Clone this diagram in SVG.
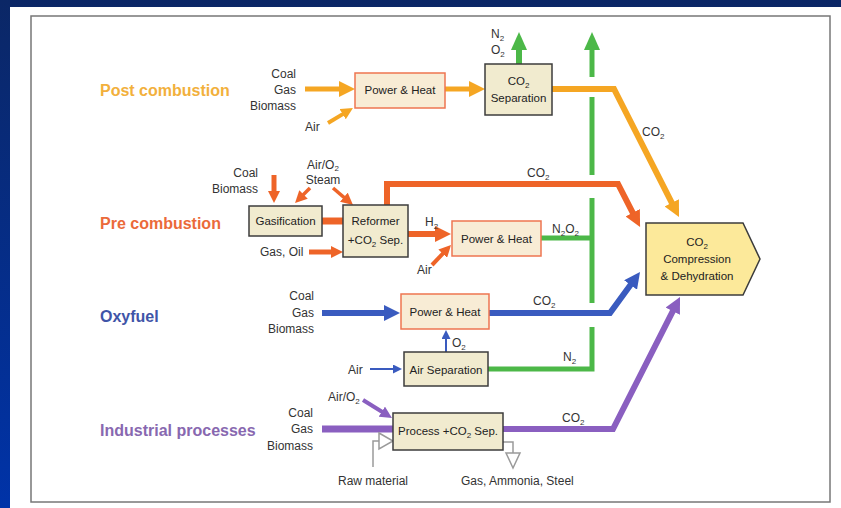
<svg xmlns="http://www.w3.org/2000/svg" width="841" height="508" viewBox="0 0 841 508">
<style>
text{font-family:"Liberation Sans",Arial,sans-serif;fill:#333}
.t{font-size:12px}
.b{font-size:11.5px;text-anchor:middle;fill:#222}
.sec{font-size:16px;font-weight:bold}
.box{fill:#f1ebcf;stroke:#3c3c3c;stroke-width:1.5}
.ph{fill:#f8ecd5;stroke:#ee7550;stroke-width:1.5}
.c{fill:none;stroke-linejoin:miter}
.or{stroke:#f5a623}
.rd{stroke:#ee6428}
.gr{stroke:#4cb848}
.bl{stroke:#3a5bbf}
.pu{stroke:#8a5fc0}
.gy{fill:none;stroke:#9a9a9a;stroke-width:1.5}
.tri{fill:#fff;stroke:#9a9a9a;stroke-width:1.5}
</style>
<defs>
<linearGradient id="bg" x1="0" y1="0" x2="0" y2="1">
<stop offset="0" stop-color="#0b2766"/>
<stop offset="1" stop-color="#0033a8"/>
</linearGradient>
<marker id="or-b" markerUnits="userSpaceOnUse" viewBox="0 0 16 16" markerWidth="16" markerHeight="16" refX="6" refY="8" orient="auto"><path d="M0,0 L16,8 L0,16 z" fill="#f5a623"/></marker>
<marker id="or-m" markerUnits="userSpaceOnUse" viewBox="0 0 12 12" markerWidth="12" markerHeight="12" refX="4" refY="6" orient="auto"><path d="M0,0 L12,6 L0,12 z" fill="#f5a623"/></marker>
<marker id="rd-b" markerUnits="userSpaceOnUse" viewBox="0 0 16 16" markerWidth="16" markerHeight="16" refX="6" refY="8" orient="auto"><path d="M0,0 L16,8 L0,16 z" fill="#ee6428"/></marker>
<marker id="rd-m" markerUnits="userSpaceOnUse" viewBox="0 0 12 12" markerWidth="12" markerHeight="12" refX="4" refY="6" orient="auto"><path d="M0,0 L12,6 L0,12 z" fill="#ee6428"/></marker>
<marker id="gr-b" markerUnits="userSpaceOnUse" viewBox="0 0 18 16" markerWidth="18" markerHeight="16" refX="8" refY="8" orient="auto"><path d="M0,0 L18,8 L0,16 z" fill="#4cb848"/></marker>
<marker id="bl-b" markerUnits="userSpaceOnUse" viewBox="0 0 16 16" markerWidth="16" markerHeight="16" refX="6" refY="8" orient="auto"><path d="M0,0 L16,8 L0,16 z" fill="#3a5bbf"/></marker>
<marker id="bl-s" markerUnits="userSpaceOnUse" viewBox="0 0 9 9" markerWidth="9" markerHeight="9" refX="3" refY="4.5" orient="auto"><path d="M0,0 L9,4.5 L0,9 z" fill="#3a5bbf"/></marker>
<marker id="pu-b" markerUnits="userSpaceOnUse" viewBox="0 0 16 16" markerWidth="16" markerHeight="16" refX="6" refY="8" orient="auto"><path d="M0,0 L16,8 L0,16 z" fill="#8a5fc0"/></marker>
<marker id="pu-m" markerUnits="userSpaceOnUse" viewBox="0 0 12 12" markerWidth="12" markerHeight="12" refX="4" refY="6" orient="auto"><path d="M0,0 L12,6 L0,12 z" fill="#8a5fc0"/></marker>
</defs>

<rect x="0" y="0" width="841" height="508" fill="url(#bg)"/>
<rect x="10" y="7" width="831" height="501" fill="#fff"/>
<rect x="31" y="16" width="799" height="486" fill="#fff" stroke="#777" stroke-width="1.5"/>

<g id="section-labels">
<text class="sec" x="100" y="96" style="fill:#f2b03c">Post combustion</text>
<text class="sec" x="100" y="229" style="fill:#eb6a3a">Pre combustion</text>
<text class="sec" x="100" y="322" style="fill:#3f55a8">Oxyfuel</text>
<text class="sec" x="100" y="436" style="fill:#8868b0">Industrial processes</text>
</g>

<g id="connectors">
<path class="c gr" stroke-width="6" d="M519,64 V42" marker-end="url(#gr-b)"/>
<path class="c gr" stroke-width="5" d="M592,77 V42" marker-end="url(#gr-b)"/>
<path class="c gr" stroke-width="5" d="M592,97 V175"/>
<path class="c gr" stroke-width="5" d="M592,198 V303"/>
<path class="c gr" stroke-width="5" d="M488,369 H592 V327"/>
<path class="c gr" stroke-width="5" d="M541,238 H592"/>
<path class="c or" stroke-width="5" d="M305,89 H345" marker-end="url(#or-b)"/>
<path class="c or" stroke-width="4" d="M328,123 L346.1,112.1" marker-end="url(#or-m)"/>
<path class="c or" stroke-width="5" d="M445,89 H475" marker-end="url(#or-b)"/>
<path class="c or" stroke-width="6" d="M552,89 H614 L674.5,208.1" marker-end="url(#or-b)"/>
<path class="c rd" stroke-width="5" d="M274,175 V195" marker-end="url(#rd-m)"/>
<path class="c rd" stroke-width="3.5" d="M310,188 L300.7,197.3" marker-end="url(#rd-m)"/>
<path class="c rd" stroke-width="3.5" d="M333,188 L346.9,199.8" marker-end="url(#rd-m)"/>
<path class="c rd" stroke-width="7" d="M322,221 H343"/>
<path class="c rd" stroke-width="5" d="M309,252 H335" marker-end="url(#rd-m)"/>
<path class="c rd" stroke-width="6" d="M387,205 V184 H618 L635.5,218.1" marker-end="url(#rd-b)"/>
<path class="c rd" stroke-width="6" d="M408,234 H441" marker-end="url(#rd-b)"/>
<path class="c rd" stroke-width="4" d="M432,265 L445.5,250.8" marker-end="url(#rd-m)"/>
<path class="c bl" stroke-width="6" d="M322,313 H390" marker-end="url(#bl-b)"/>
<path class="c bl" stroke-width="6" d="M489,313 H610 L634.1,280.1" marker-end="url(#bl-b)"/>
<path class="c bl" stroke-width="2" d="M446,352 V336" marker-end="url(#bl-s)"/>
<path class="c bl" stroke-width="2" d="M370,369 H396" marker-end="url(#bl-s)"/>
<path class="c pu" stroke-width="7" d="M322,429 H393"/>
<path class="c pu" stroke-width="6" d="M503,429 H613 L675.5,305.9" marker-end="url(#pu-b)"/>
<path class="c pu" stroke-width="4" d="M363,400 L385.2,413.8" marker-end="url(#pu-m)"/>
<path class="gy" d="M373,467 V441 H379"/>
<polygon class="tri" points="379,433 393,441 379,449"/>
<path class="gy" d="M503,442 H513 V453"/>
<polygon class="tri" points="506,453 520,453 513,468"/>
</g>

<g id="post-inputs">
<text class="t" x="296" y="78" text-anchor="end">Coal</text>
<text class="t" x="296" y="94" text-anchor="end">Gas</text>
<text class="t" x="296" y="110" text-anchor="end">Biomass</text>
<text class="t" x="305" y="131">Air</text>
<text class="t" x="491" y="38" font-size="11">N<tspan font-size="8" dy="3">2</tspan></text>
<text class="t" x="491" y="54" font-size="11">O<tspan font-size="8" dy="3">2</tspan></text>
<text class="t" x="642" y="136">CO<tspan font-size="8" dy="3">2</tspan></text>
</g>
<g id="post-power-heat">
<rect class="ph" x="355" y="73" width="90" height="35"/>
<text class="b" x="400" y="94">Power &amp; Heat</text>
</g>
<g id="co2-separation">
<rect class="box" x="485" y="64" width="67" height="51"/>
<text class="b" x="518.5" y="85">CO<tspan font-size="8" dy="3">2</tspan></text>
<text class="b" x="518.5" y="102">Separation</text>
</g>

<g id="pre-inputs">
<text class="t" x="258" y="177" text-anchor="end">Coal</text>
<text class="t" x="258" y="193" text-anchor="end">Biomass</text>
<text class="t" x="323" y="169" text-anchor="middle">Air/O<tspan font-size="8" dy="2">2</tspan></text>
<text class="t" x="323" y="184" text-anchor="middle">Steam</text>
<text class="t" x="260" y="256">Gas, Oil</text>
<text class="t" x="527" y="177">CO<tspan font-size="8" dy="3">2</tspan></text>
<text class="t" x="425" y="226">H<tspan font-size="8" dy="3">2</tspan></text>
<text class="t" x="417" y="274">Air</text>
<text class="t" x="552" y="233">N<tspan font-size="8" dy="3">2</tspan><tspan dy="-3">O</tspan><tspan font-size="8" dy="3">2</tspan></text>
</g>
<g id="gasification">
<rect class="box" x="249" y="206" width="73" height="30"/>
<text class="b" x="285.5" y="225">Gasification</text>
</g>
<g id="reformer">
<rect class="box" x="343" y="205" width="65" height="52"/>
<text class="b" x="375.5" y="225">Reformer</text>
<text class="b" x="375.5" y="244">+CO<tspan font-size="8" dy="3">2</tspan><tspan dy="-3"> Sep.</tspan></text>
</g>
<g id="pre-power-heat">
<rect class="ph" x="452" y="221" width="89" height="35"/>
<text class="b" x="496.5" y="243">Power &amp; Heat</text>
</g>

<g id="compression">
<polygon points="646,223 743,223 760,259 743,295 646,295" fill="#fce99a" stroke="#3c3c3c" stroke-width="1.5"/>
<text class="b" x="697" y="246">CO<tspan font-size="8" dy="3">2</tspan></text>
<text class="b" x="697" y="263">Compression</text>
<text class="b" x="697" y="280">&amp; Dehydration</text>
</g>

<g id="oxy-inputs">
<text class="t" x="314" y="300" text-anchor="end">Coal</text>
<text class="t" x="314" y="317" text-anchor="end">Gas</text>
<text class="t" x="314" y="333" text-anchor="end">Biomass</text>
<text class="t" x="533" y="305">CO<tspan font-size="8" dy="3">2</tspan></text>
<text class="t" x="452" y="347">O<tspan font-size="8" dy="3">2</tspan></text>
<text class="t" x="348" y="374">Air</text>
<text class="t" x="563" y="361">N<tspan font-size="8" dy="3">2</tspan></text>
</g>
<g id="oxy-power-heat">
<rect class="ph" x="401" y="294" width="88" height="35"/>
<text class="b" x="445" y="316">Power &amp; Heat</text>
</g>
<g id="air-separation">
<rect class="box" x="404" y="352" width="84" height="34"/>
<text class="b" x="446" y="374">Air Separation</text>
</g>

<g id="industrial-inputs">
<text class="t" x="313" y="417" text-anchor="end">Coal</text>
<text class="t" x="313" y="433" text-anchor="end">Gas</text>
<text class="t" x="313" y="450" text-anchor="end">Biomass</text>
<text class="t" x="328" y="401">Air/O<tspan font-size="8" dy="3">2</tspan></text>
<text class="t" x="562" y="422">CO<tspan font-size="8" dy="3">2</tspan></text>
<text class="t" x="338" y="485">Raw material</text>
<text class="t" x="461" y="485">Gas, Ammonia, Steel</text>
</g>
<g id="process">
<rect class="box" x="393" y="413" width="110" height="37"/>
<text class="b" x="448" y="435">Process +CO<tspan font-size="8" dy="3">2</tspan><tspan dy="-3"> Sep.</tspan></text>
</g>
</svg>
